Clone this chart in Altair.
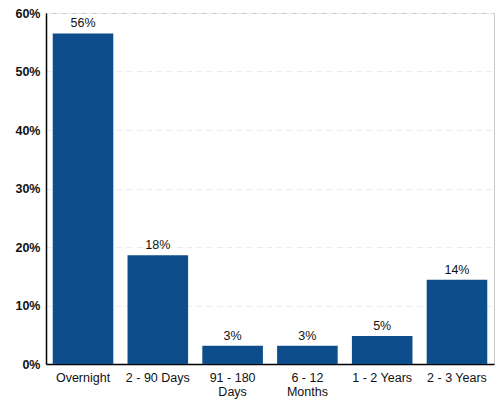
import altair as alt
import pandas as pd

categories = ["Overnight", "2 - 90 Days", "91 - 180 Days", "6 - 12 Months", "1 - 2 Years", "2 - 3 Years"]
values = [56.5, 18.6, 3.1, 3.1, 4.8, 14.4]
value_labels = ["56%", "18%", "3%", "3%", "5%", "14%"]
y_ticks = [0, 10, 20, 30, 40, 50, 60]

df = pd.DataFrame({"cat": categories, "val": values, "lab": value_labels})

FONT = "Liberation Sans"
label_expr = ("datum.label == '91 - 180 Days' ? ['91 - 180', 'Days'] : "
              "datum.label == '6 - 12 Months' ? ['6 - 12', 'Months'] : datum.label")

x = alt.X("cat:N", sort=categories, title=None,
          scale=alt.Scale(paddingInner=0.19, paddingOuter=0.09),
          axis=alt.Axis(labelAngle=0, labelExpr=label_expr, ticks=False, domainColor="#000000",
                        domainWidth=1.5, labelFont=FONT, labelFontSize=12.5, labelColor="#111111",
                        labelPadding=7, labelLineHeight=14, grid=False))
y = alt.Y("val:Q", title=None, scale=alt.Scale(domain=[0, 60], nice=False),
          axis=alt.Axis(values=y_ticks, labelExpr="datum.value + '%'", ticks=False,
                        domainColor="#000000", domainWidth=1.5, labelFont=FONT, labelFontSize=12.5,
                        labelFontWeight="bold", labelColor="#111111", labelPadding=6,
                        gridColor="#ececec", gridDash=[6, 4], gridWidth=1))

bars = alt.Chart(df).mark_bar(color="#0E4D8C").encode(x=x, y=y)
text = alt.Chart(df).mark_text(baseline="bottom", dy=-3, font=FONT, fontSize=12.5,
                               color="#111111").encode(x=alt.X("cat:N", sort=categories),
                                                         y="val:Q", text="lab:N")

chart = (bars + text).properties(
    width=448, height=351,
    autosize=alt.AutoSizeParams(type="none"),
    padding={"left": 46, "top": 13, "right": 4, "bottom": 37},
).configure_view(stroke="#c8c8c8", strokeWidth=1)

chart.save("out.html", embed_options={"renderer": "svg", "actions": False})
